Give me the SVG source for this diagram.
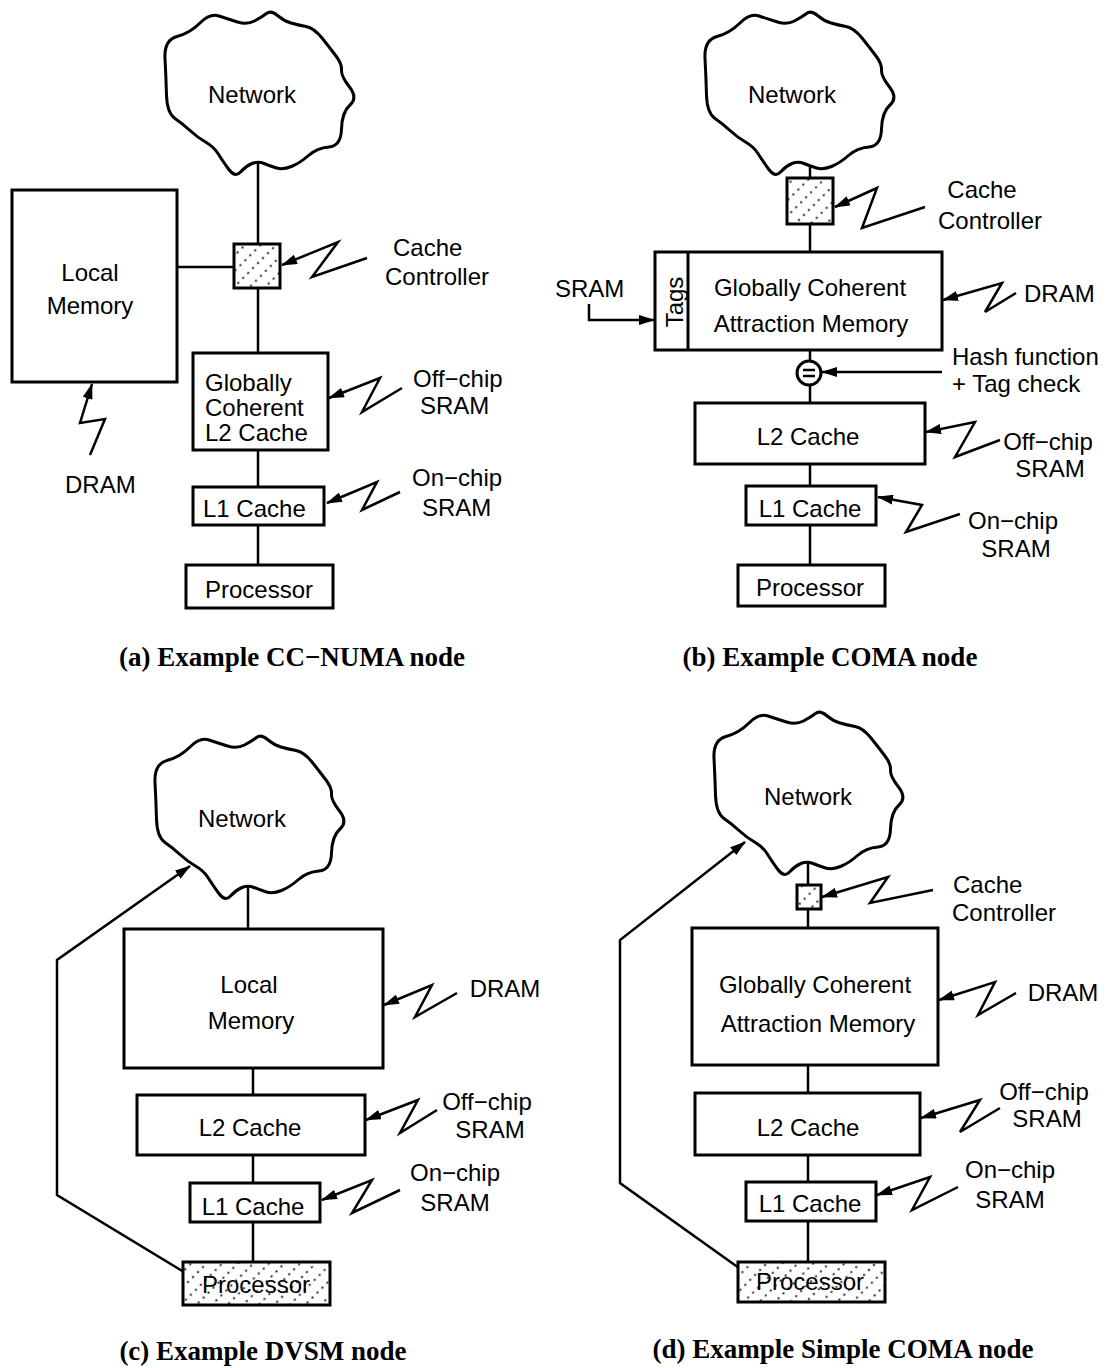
<svg xmlns="http://www.w3.org/2000/svg" width="1114" height="1368" viewBox="0 0 1114 1368">
  <style>
    .box { fill: #fff; stroke: #000; stroke-width: 3; }
    .hatch { fill: url(#dots); stroke: #000; stroke-width: 3; }
    .ln { fill: none; stroke: #000; stroke-width: 2.5; }
    .bolt { fill: none; stroke: #000; stroke-width: 2.5; stroke-linejoin: miter; marker-end: url(#ah); }
    .arr { fill: none; stroke: #000; stroke-width: 2.5; marker-end: url(#ah); }
    .cloud { fill: #fff; stroke: #000; stroke-width: 3; stroke-linejoin: round; }
    text { font-family: "Liberation Sans", Arial, Helvetica, sans-serif; font-size: 24px; fill: #000; }
    .c { text-anchor: middle; }
    .cap { font-family: "Liberation Serif", "Times New Roman", serif; font-weight: bold; font-size: 27px; text-anchor: middle; }
  </style>
  <defs>
    <marker id="ah" viewBox="0 0 16 10" refX="15" refY="5" markerWidth="16" markerHeight="10" markerUnits="userSpaceOnUse" orient="auto">
      <path d="M0,0 L16,5 L0,10 Z" fill="#000"/>
    </marker>
    <!-- dotted diagonal fill for controller and processor boxes -->
    <pattern id="dots" width="7" height="11" patternUnits="userSpaceOnUse" patternTransform="rotate(-45)">
      <rect width="7" height="11" fill="#fff"/>
      <circle cx="3.5" cy="5.5" r="1.1" fill="#000"/>
    </pattern>
    <path id="cloud" class="cloud" d="M165,58.5 Q164,40 177,36.5 Q190,33 200,23 Q210,13 219,16 Q228,19 237.5,22 Q247,25 254.5,21 Q262,17 266.5,13.5 Q271,10 277.5,15.5 Q284,21 291,23 Q298,25 306,26.5 Q314,28 322,38 Q330,48 336,56 Q342,64 341.5,70 Q341,76 349.5,87 Q358,98 350,105 Q342,112 341.5,129 Q341,146 329,147 Q317,148 308.5,155.5 Q300,163 291.5,166.5 Q283,170 276.5,168 Q270,166 264,163.5 Q258,161 252,163.5 Q246,166 240.5,172 Q235,178 228.5,169 Q222,160 218,153.5 Q214,147 205.5,142 Q197,137 190,130.5 Q183,124 175,118.5 Q167,113 166.5,95 Q166,77 165,58.5 Z"/>
  </defs>

  <!-- ===== (a) CC-NUMA node ===== -->
  <g id="connectors-a">
    <line class="ln" x1="258" y1="160" x2="258" y2="244"/>
    <line class="ln" x1="177" y1="267" x2="234" y2="267"/>
    <line class="ln" x1="258" y1="288" x2="258" y2="353"/>
    <line class="ln" x1="258" y1="450" x2="258" y2="487"/>
    <line class="ln" x1="258" y1="525" x2="258" y2="565"/>
    <polyline class="bolt" points="367,258 312,277 338,242 282,265"/>
    <polyline class="bolt" points="402,388 362,412 380,378 329,398"/>
    <polyline class="bolt" points="400,492 362,510 377,482 327,503"/>
    <polyline class="bolt" points="90,455 105,419 80,423 92,384"/>
  </g>
  <g id="network-a"><use href="#cloud"/><text class="c" x="252" y="103">Network</text></g>
  <g id="local-memory-a"><rect class="box" x="12" y="190" width="165" height="192"/><text class="c" x="90" y="281">Local</text><text class="c" x="90" y="314">Memory</text></g>
  <g id="cache-controller-a"><rect class="hatch" x="234" y="244" width="46" height="44"/></g>
  <g id="l2-a"><rect class="box" x="193" y="353" width="135" height="97"/><text x="205" y="391">Globally</text><text x="205" y="416">Coherent</text><text x="205" y="441">L2 Cache</text></g>
  <g id="l1-a"><rect class="box" x="193" y="487" width="131" height="38"/><text x="203" y="517">L1 Cache</text></g>
  <g id="processor-a"><rect class="box" x="186" y="565" width="147" height="43"/><text class="c" x="259" y="598">Processor</text></g>
  <g id="labels-a">
    <text x="393" y="256">Cache</text><text x="385" y="285">Controller</text>
    <text x="413" y="387">Off−chip</text><text x="420" y="414">SRAM</text>
    <text x="412" y="486">On−chip</text><text x="422" y="516">SRAM</text>
    <text x="65" y="493">DRAM</text>
    <text class="cap" x="292" y="666">(a) Example CC−NUMA node</text>
  </g>

  <!-- ===== (b) COMA node ===== -->
  <g id="connectors-b">
    <line class="ln" x1="810" y1="163" x2="810" y2="178"/>
    <line class="ln" x1="810" y1="224" x2="810" y2="252"/>
    <line class="ln" x1="810" y1="350" x2="810" y2="361"/>
    <line class="ln" x1="810" y1="385" x2="810" y2="403"/>
    <line class="ln" x1="810" y1="464" x2="810" y2="486"/>
    <line class="ln" x1="810" y1="525" x2="810" y2="565"/>
    <polyline class="arr" points="589,304 589,320 654,320"/>
    <line class="arr" x1="942" y1="372" x2="822" y2="372"/>
    <polyline class="bolt" points="925,207 862,228 877,188 835,207"/>
    <polyline class="bolt" points="1016,293 985,312 1002,283 943,300"/>
    <polyline class="bolt" points="1000,440 955,457 975,422 926,432"/>
    <polyline class="bolt" points="960,514 906,532 922,505 878,497"/>
  </g>
  <g id="network-b"><use href="#cloud" transform="translate(540,0)"/><text class="c" x="792" y="103">Network</text></g>
  <g id="cache-controller-b"><rect class="hatch" x="787" y="178" width="46" height="46"/></g>
  <g id="attraction-memory-b">
    <rect class="box" x="655" y="252" width="287" height="98"/>
    <line class="ln" x1="688" y1="252" x2="688" y2="350" style="stroke-width:3"/>
    <text class="c" transform="translate(683,302) rotate(-90)">Tags</text>
    <text class="c" x="810" y="296">Globally Coherent</text>
    <text class="c" x="811" y="332">Attraction Memory</text>
  </g>
  <g id="hash-check-b">
    <circle cx="809" cy="373" r="12" fill="#fff" stroke="#000" stroke-width="3"/>
    <line x1="803" y1="370" x2="815" y2="370" stroke="#000" stroke-width="2.5"/>
    <line x1="803" y1="376" x2="815" y2="376" stroke="#000" stroke-width="2.5"/>
  </g>
  <g id="l2-b"><rect class="box" x="695" y="403" width="230" height="61"/><text class="c" x="808" y="445">L2 Cache</text></g>
  <g id="l1-b"><rect class="box" x="746" y="486" width="130" height="39"/><text class="c" x="810" y="517">L1 Cache</text></g>
  <g id="processor-b"><rect class="box" x="738" y="565" width="147" height="41"/><text class="c" x="810" y="596">Processor</text></g>
  <g id="labels-b">
    <text class="c" x="982" y="198">Cache</text><text class="c" x="990" y="229">Controller</text>
    <text x="555" y="297">SRAM</text>
    <text x="1024" y="302">DRAM</text>
    <text x="952" y="365">Hash function</text><text x="952" y="392">+ Tag check</text>
    <text class="c" x="1048" y="450">Off−chip</text><text class="c" x="1050" y="477">SRAM</text>
    <text class="c" x="1013" y="529">On−chip</text><text class="c" x="1016" y="557">SRAM</text>
    <text class="cap" x="830" y="666">(b) Example COMA node</text>
  </g>

  <!-- ===== (c) DVSM node ===== -->
  <g id="connectors-c">
    <line class="ln" x1="248" y1="883" x2="248" y2="929"/>
    <line class="ln" x1="253" y1="1068" x2="253" y2="1095"/>
    <line class="ln" x1="253" y1="1155" x2="253" y2="1183"/>
    <line class="ln" x1="253" y1="1222" x2="253" y2="1262"/>
    <polyline class="arr" points="184,1272 57,1195 57,960 190,866"/>
    <polyline class="bolt" points="457,993 415,1017 432,985 384,1005"/>
    <polyline class="bolt" points="437,1110 400,1133 418,1100 366,1120"/>
    <polyline class="bolt" points="400,1190 352,1213 372,1180 322,1200"/>
  </g>
  <g id="network-c"><use href="#cloud" transform="translate(-10,724)"/><text class="c" x="242" y="827">Network</text></g>
  <g id="local-memory-c"><rect class="box" x="124" y="929" width="259" height="139"/><text class="c" x="249" y="993">Local</text><text class="c" x="251" y="1029">Memory</text></g>
  <g id="l2-c"><rect class="box" x="137" y="1095" width="228" height="60"/><text class="c" x="250" y="1136">L2 Cache</text></g>
  <g id="l1-c"><rect class="box" x="190" y="1183" width="130" height="39"/><text class="c" x="253" y="1215">L1 Cache</text></g>
  <g id="processor-c"><rect class="hatch" x="183" y="1262" width="147" height="43"/><text class="c" x="256" y="1293">Processor</text></g>
  <g id="labels-c">
    <text class="c" x="505" y="997">DRAM</text>
    <text class="c" x="487" y="1110">Off−chip</text><text class="c" x="490" y="1138">SRAM</text>
    <text class="c" x="455" y="1181">On−chip</text><text class="c" x="455" y="1211">SRAM</text>
    <text class="cap" x="263" y="1360">(c) Example DVSM node</text>
  </g>

  <!-- ===== (d) Simple COMA node ===== -->
  <g id="connectors-d">
    <line class="ln" x1="808" y1="860" x2="808" y2="885"/>
    <line class="ln" x1="808" y1="909" x2="808" y2="928"/>
    <line class="ln" x1="808" y1="1065" x2="808" y2="1093"/>
    <line class="ln" x1="808" y1="1155" x2="808" y2="1182"/>
    <line class="ln" x1="808" y1="1221" x2="808" y2="1262"/>
    <polyline class="arr" points="739,1268 620,1183 620,940 745,842"/>
    <polyline class="bolt" points="933,890 870,903 888,877 822,897"/>
    <polyline class="bolt" points="1016,993 978,1015 995,982 939,1000"/>
    <polyline class="bolt" points="1000,1108 960,1132 980,1100 921,1118"/>
    <polyline class="bolt" points="958,1187 912,1210 930,1177 877,1195"/>
  </g>
  <g id="network-d"><use href="#cloud" transform="translate(549,700)"/><text class="c" x="808" y="805">Network</text></g>
  <g id="cache-controller-d"><rect class="hatch" x="797" y="885" width="24" height="24"/></g>
  <g id="attraction-memory-d"><rect class="box" x="692" y="928" width="246" height="137"/><text class="c" x="815" y="993">Globally Coherent</text><text class="c" x="818" y="1032">Attraction Memory</text></g>
  <g id="l2-d"><rect class="box" x="695" y="1093" width="225" height="62"/><text class="c" x="808" y="1136">L2 Cache</text></g>
  <g id="l1-d"><rect class="box" x="746" y="1182" width="130" height="39"/><text class="c" x="810" y="1212">L1 Cache</text></g>
  <g id="processor-d"><rect class="hatch" x="738" y="1262" width="147" height="40"/><text class="c" x="810" y="1290">Processor</text></g>
  <g id="labels-d">
    <text x="953" y="893">Cache</text><text x="952" y="921">Controller</text>
    <text class="c" x="1063" y="1001">DRAM</text>
    <text class="c" x="1044" y="1100">Off−chip</text><text class="c" x="1047" y="1127">SRAM</text>
    <text class="c" x="1010" y="1178">On−chip</text><text class="c" x="1010" y="1208">SRAM</text>
    <text class="cap" x="843" y="1358">(d) Example Simple COMA node</text>
  </g>
</svg>
